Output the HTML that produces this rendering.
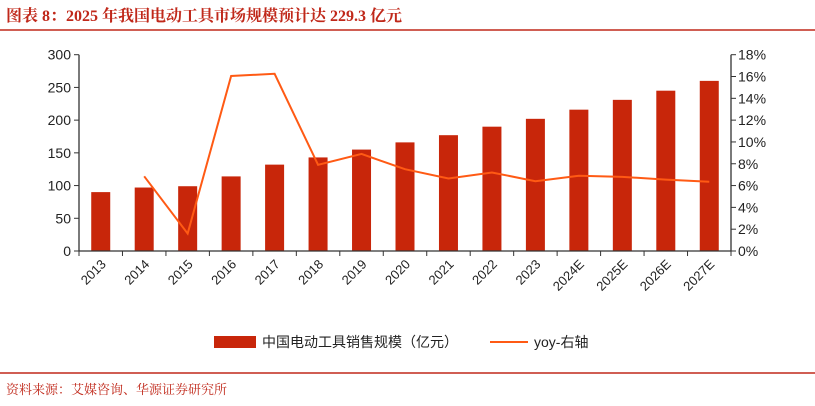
<!DOCTYPE html>
<html><head><meta charset="utf-8"><style>
body{margin:0;background:#fff;width:815px;height:406px;overflow:hidden;font-family:"Liberation Sans","Noto Sans CJK SC",sans-serif}
svg{display:block}
</style></head><body>
<svg id="c" width="815" height="406" xmlns="http://www.w3.org/2000/svg">
<text x="6" y="21" font-size="16" font-weight="bold" fill="#c0281a" font-family="'Liberation Serif','Noto Serif CJK SC',serif">图表 8：2025 年我国电动工具市场规模预计达 229.3 亿元</text>
<line x1="0" y1="30" x2="815" y2="30" stroke="#c0281a" stroke-width="1.5"/>
<g id="plot"></g>
<g>
<rect x="214" y="336" width="42" height="12" fill="#c8260a"/>
<text x="262" y="347" font-size="14" fill="#222">中国电动工具销售规模（亿元）</text>
<line x1="490" y1="342" x2="528" y2="342" stroke="#ff5a14" stroke-width="2"/>
<text x="534" y="347" font-size="14" fill="#222">yoy-右轴</text>
</g>
<line x1="0" y1="373" x2="815" y2="373" stroke="#c0281a" stroke-width="1.5"/>
<text x="6" y="394" font-size="13" fill="#c0281a" font-family="'Liberation Serif','Noto Serif CJK SC',serif">资料来源：艾媒咨询、华源证券研究所</text>
</svg>
<script>
const categories=["2013","2014","2015","2016","2017","2018","2019","2020","2021","2022","2023","2024E","2025E","2026E","2027E"];
const salesValues=[90,97,99,114,132,143,155,166,177,190,202,216,231,245,260];
const yoyValues=[null,6.85,1.6,16.05,16.25,7.9,8.9,7.5,6.65,7.2,6.4,6.9,6.8,6.55,6.35];
const leftTicks=[0,50,100,150,200,250,300];
const rightTicks=[0,2,4,6,8,10,12,14,16,18];
const NS="http://www.w3.org/2000/svg";
const g=document.getElementById('plot');
const X0=79,X1=731,Y0=251,Y1=54.7;
const step=(X1-X0)/categories.length;
const xc=i=>X0+step*(i+0.5);
const yl=v=>Y0-(v/300)*(Y0-Y1);
const yr=v=>Y0-(v/18)*(Y0-Y1);
function mk(t,a){const e=document.createElementNS(NS,t);for(const k in a)e.setAttribute(k,a[k]);g.appendChild(e);return e;}
salesValues.forEach((v,i)=>{
 const r=mk('rect',{x:xc(i)-9.5,y:yl(v),width:19,height:Y0-yl(v),fill:'#c8260a'});
 
 
});
let d='';yoyValues.forEach((v,i)=>{if(v==null)return;d+=(d?'L':'M')+xc(i)+','+yr(v);});
const p=mk('path',{d:d,fill:'none',stroke:'#ff5a14','stroke-width':2});


const ax=mk('path',{d:`M${X0},${Y1}V${Y0}H${X1}V${Y1}`,fill:'none',stroke:'#333','stroke-width':1.3});


leftTicks.forEach(v=>{
 mk('line',{x1:X0-5,x2:X0,y1:yl(v),y2:yl(v),stroke:'#333'});
 const t=mk('text',{x:X0-8,y:yl(v)+5,'text-anchor':'end','font-size':14,fill:'#222'});t.textContent=v;
 
 
});
rightTicks.forEach(v=>{
 mk('line',{x1:X1,x2:X1+5,y1:yr(v),y2:yr(v),stroke:'#333'});
 const t=mk('text',{x:X1+7,y:yr(v)+5,'font-size':14,fill:'#222'});t.textContent=v+'%';
 
 
});
for(let i=0;i<=categories.length;i++)mk('line',{x1:X0+step*i,x2:X0+step*i,y1:Y0,y2:Y0+5,stroke:'#333'});
categories.forEach((c,i)=>{
 const x=xc(i)+6,y=Y0+14;
 const t=mk('text',{x:x,y:y,'text-anchor':'end','font-size':13,fill:'#222',transform:`rotate(-45 ${x} ${y})`});t.textContent=c;
 
 
});
</script>
</body></html>
